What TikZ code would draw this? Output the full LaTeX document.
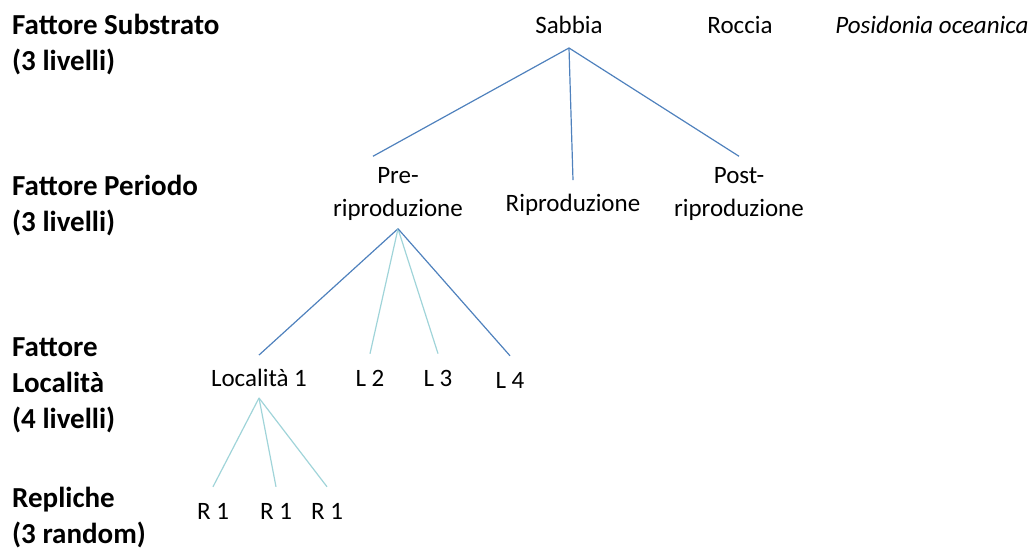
\documentclass[tikz,border=0pt]{standalone}
\usepackage{fontspec}
\setmainfont{Carlito}
\usepackage{tikz}
\usetikzlibrary{positioning}
\definecolor{lineablu}{HTML}{4F81BD}
\definecolor{linealeggera}{HTML}{A0D4D9}

\begin{document}
\begin{tikzpicture}[x=1pt,y=1pt]
    % Stili
    \tikzstyle{fattore} = [anchor=west, align=left, inner sep=0pt, font=\fontsize{29}{36}\selectfont\bfseries]
    \tikzstyle{livello} = [align=center, inner sep=2pt, font=\fontsize{25}{33}\selectfont]
    \tikzstyle{ramo} = [draw=lineablu, line width=1.2pt]
    \tikzstyle{ramochiaro} = [draw=linealeggera, line width=1.2pt]

    \useasboundingbox (0,0) rectangle (1034,-550);

    % Fattori
    \node (fsub) [fattore] at (12,-45) {Fattore Substrato\\(3 livelli)};
    \node (fper) [fattore] at (12,-206) {Fattore Periodo\\(3 livelli)};
    \node (floc) [fattore] at (12,-385) {Fattore\\Località\\(4 livelli)};
    \node (frep) [fattore] at (12,-518) {Repliche\\(3 random)};

    % Livelli
    \node (sabbia) [livello] at (569,-25) {Sabbia};
    \node (roccia) [livello] at (740,-25) {Roccia};
    \node (posidonia) [livello] at (932,-25) {\itshape Posidonia oceanica};
    \node (pre) [livello] at (398,-194) {Pre-\\riproduzione};
    \node (ripro) [livello] at (573,-205) {Riproduzione};
    \node (post) [livello] at (739,-194) {Post-\\riproduzione};
    \node (loc1) [livello] at (259,-378) {Località 1};
    \node (loc2) [livello] at (370,-378) {L 2};
    \node (loc3) [livello] at (438,-378) {L 3};
    \node (loc4) [livello] at (510,-380) {L 4};
    \node (rep1) [livello] at (213,-511) {R 1};
    \node (rep2) [livello] at (276,-511) {R 1};
    \node (rep3) [livello] at (327,-511) {R 1};

    % Rami
    \draw [ramo] ([yshift=-12pt]sabbia.south) -- ([xshift=-25pt,yshift=9pt]pre.north);
    \draw [ramo] ([yshift=-12pt]sabbia.south) -- ([yshift=12pt]ripro.north);
    \draw [ramo] ([yshift=-12pt]sabbia.south) -- ([yshift=9pt]post.north);
    \draw [ramo] ([yshift=-6pt]pre.south) -- ([yshift=12pt]loc1.north);
    \draw [ramochiaro] ([yshift=-6pt]pre.south) -- ([yshift=14pt]loc2.north);
    \draw [ramochiaro] ([yshift=-6pt]pre.south) -- ([yshift=14pt]loc3.north);
    \draw [ramo] ([yshift=-6pt]pre.south) -- ([yshift=14pt]loc4.north);
    \draw [ramochiaro] ([yshift=-9pt]loc1.south) -- ([yshift=14pt]rep1.north);
    \draw [ramochiaro] ([yshift=-9pt]loc1.south) -- ([yshift=14pt]rep2.north);
    \draw [ramochiaro] ([yshift=-9pt]loc1.south) -- ([yshift=14pt]rep3.north);
\end{tikzpicture}
\end{document}
